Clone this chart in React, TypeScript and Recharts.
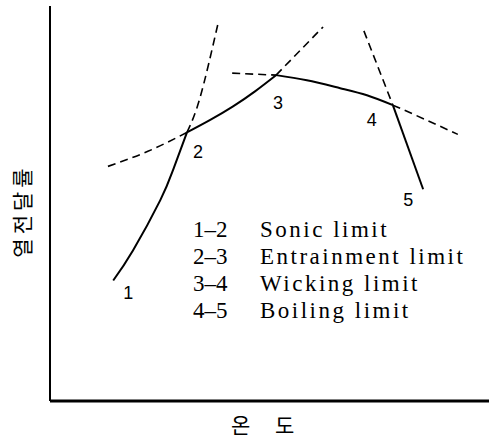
import { LineChart, Line, XAxis, YAxis, ReferenceDot } from 'recharts'

// heat transport limits vs temperature (arbitrary 0-100 units)
const sonicLimit = [
  { x: 14.4, y: 30.5 },
  { x: 18.9, y: 38.1 },
  { x: 25.1, y: 50.8 },
  { x: 28.0, y: 58.4 },
  { x: 31.2, y: 68.0 },
]
const entrainmentLimit = [
  { x: 31.2, y: 68.0 },
  { x: 36.4, y: 71.1 },
  { x: 41.7, y: 74.6 },
  { x: 46.7, y: 78.4 },
  { x: 51.5, y: 82.5 },
]
const wickingLimit = [
  { x: 51.5, y: 82.5 },
  { x: 58.5, y: 81.2 },
  { x: 66.1, y: 79.2 },
  { x: 72.2, y: 77.4 },
  { x: 78.1, y: 74.9 },
]
const boilingLimit = [
  { x: 78.1, y: 74.9 },
  { x: 85.0, y: 53.6 },
]

// dashed continuations of each limit beyond the operating envelope
const entrainmentLow = [
  { x: 13.2, y: 59.4 },
  { x: 22.3, y: 63.2 },
  { x: 31.2, y: 68.0 },
]
const sonicHigh = [
  { x: 31.2, y: 68.0 },
  { x: 34.2, y: 76.9 },
  { x: 38.3, y: 95.7 },
]
const wickingLow = [
  { x: 41.5, y: 83.0 },
  { x: 51.5, y: 82.5 },
]
const entrainmentHigh = [
  { x: 51.5, y: 82.5 },
  { x: 62.2, y: 94.7 },
]
const boilingLow = [
  { x: 71.5, y: 93.7 },
  { x: 78.1, y: 74.9 },
]
const wickingHigh = [
  { x: 78.1, y: 74.9 },
  { x: 85.4, y: 71.3 },
  { x: 92.9, y: 67.5 },
]

const pointNames = ['1', '2', '3', '4', '5']
const points = [
  sonicLimit[0],
  sonicLimit[sonicLimit.length - 1],
  entrainmentLimit[entrainmentLimit.length - 1],
  wickingLimit[wickingLimit.length - 1],
  boilingLimit[boilingLimit.length - 1],
]

const legendRanges = ['1–2', '2–3', '3–4', '4–5']
const legendNames = ['Sonic limit', 'Entrainment limit', 'Wicking limit', 'Boiling limit']

const yTitle = '열전달률'
const xTitle = '온 도'

// label offsets in px from each numbered point
const labelOffsets = [
  [15, 12],
  [11, 20],
  [2, 28],
  [-21, 15],
  [-15, 11],
]

const solid = [sonicLimit, entrainmentLimit, wickingLimit, boilingLimit]
const dashed = [entrainmentLow, sonicHigh, wickingLow, entrainmentHigh, boilingLow, wickingHigh]

export default function App() {
  return (
    <div style={{ position: 'absolute', left: 0, top: 0, width: 489, height: 439, background: '#fff' }}>
      <LineChart width={489} height={439} margin={{ top: 6, right: 0, bottom: 37, left: 49 }}>
        <XAxis
          type="number"
          dataKey="x"
          domain={[0, 100]}
          height={1}
          tick={false}
          tickLine={false}
          axisLine={{ stroke: '#000', strokeWidth: 3 }}
          allowDataOverflow
        />
        <YAxis
          type="number"
          dataKey="y"
          domain={[0, 100]}
          width={1}
          tick={false}
          tickLine={false}
          axisLine={{ stroke: '#000', strokeWidth: 2 }}
          allowDataOverflow
        />
        {dashed.map((d, i) => (
          <Line
            key={`d${i}`}
            data={d}
            dataKey="y"
            type="natural"
            stroke="#000"
            strokeWidth={1.6}
            strokeDasharray="8 5"
            dot={false}
            isAnimationActive={false}
          />
        ))}
        {solid.map((d, i) => (
          <Line
            key={`s${i}`}
            data={d}
            dataKey="y"
            type="natural"
            stroke="#000"
            strokeWidth={2}
            dot={false}
            isAnimationActive={false}
          />
        ))}
        {points.map((p, i) => (
          <ReferenceDot
            key={`p${i}`}
            x={p.x}
            y={p.y}
            r={1}
            fill="none"
            stroke="none"
            label={(props: any) => {
              const vb = props.viewBox || {}
              return (
                <text
                  x={vb.x + 1 + labelOffsets[i][0]}
                  y={vb.y + 1 + labelOffsets[i][1]}
                  textAnchor="middle"
                  dominantBaseline="central"
                  fontFamily="Liberation Sans, Arial, sans-serif"
                  fontSize={18}
                  fill="#000"
                >
                  {pointNames[i]}
                </text>
              )
            }}
          />
        ))}
      </LineChart>
      <svg
        width={489}
        height={439}
        style={{ position: 'absolute', left: 0, top: 0, pointerEvents: 'none' }}
      >
        {legendRanges.map((r, i) => (
          <g key={r} fontFamily="Liberation Serif, Times New Roman, serif" fontSize={23} fill="#000">
            <text x={193} y={237 + i * 27}>{r}</text>
            <text x={260} y={237 + i * 27} letterSpacing={2.5}>
              {legendNames[i]}
            </text>
          </g>
        ))}
        <text
          x={21}
          y={211}
          transform="rotate(-90 21 211)"
          textAnchor="middle"
          dominantBaseline="central"
          fontFamily="Noto Sans CJK KR, sans-serif"
          fontSize={21}
          letterSpacing={4}
          fill="#000"
        >
          {yTitle}
        </text>
        <text
          x={231}
          y={424}
          dominantBaseline="central"
          fontFamily="Noto Sans CJK KR, sans-serif"
          fontSize={21}
          letterSpacing={10}
          fill="#000"
        >
          {xTitle}
        </text>
      </svg>
    </div>
  )
}
